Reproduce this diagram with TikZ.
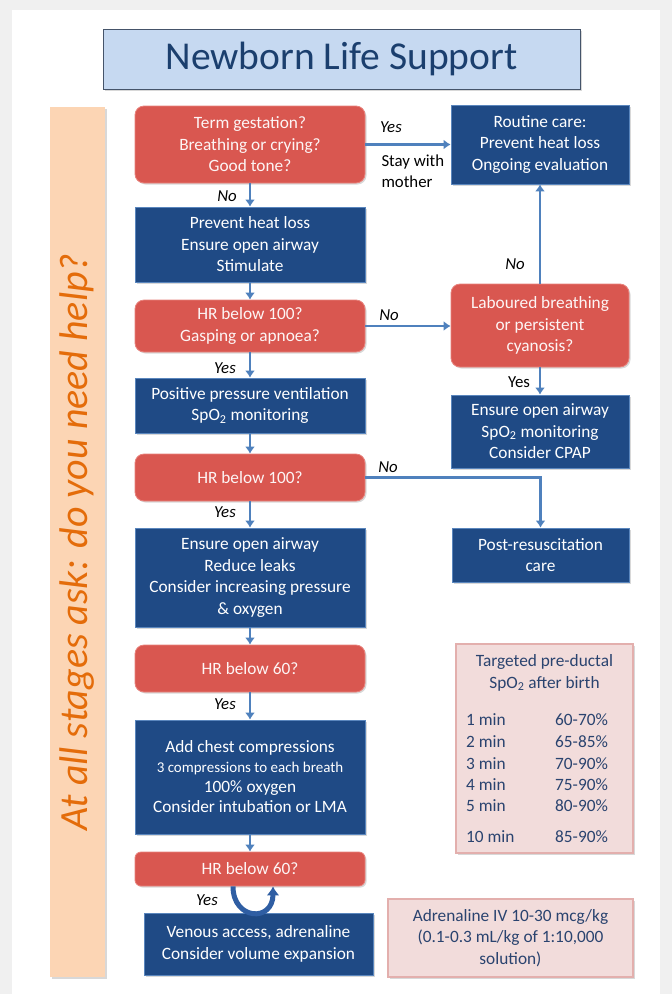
\documentclass[tikz,border=0pt]{standalone}
\usepackage{fontspec}
\setmainfont{Carlito}
\usetikzlibrary{arrows.meta,shadows}
\definecolor{NavyBox}{HTML}{1F4A85}
\definecolor{NavyEdge}{HTML}{5A86BD}
\definecolor{RedBox}{HTML}{D95750}
\definecolor{RedEdge}{HTML}{E8827C}
\definecolor{ArrowBlue}{HTML}{4F81BD}
\definecolor{TurnBlue}{HTML}{2F5EA3}
\definecolor{TitleFill}{HTML}{C6D9F1}
\definecolor{TitleInk}{HTML}{1B3F6E}
\definecolor{TitleEdge}{HTML}{45546A}
\definecolor{Peach}{HTML}{FCD5B4}
\definecolor{Orange}{HTML}{E46C0A}
\definecolor{PinkFill}{HTML}{F2DCDB}
\definecolor{PinkEdge}{HTML}{E3AFAD}
\definecolor{Slate}{HTML}{2A436F}
\definecolor{Frame}{HTML}{F0F0F0}

\begin{document}
\begin{tikzpicture}[x=1pt,y=-1pt,
  every node/.style={font=\fontsize{17.3}{21.5}\selectfont},
  shade/.style={drop shadow={shadow xshift=1.5pt,shadow yshift=-1.5pt,opacity=.3}},
  box/.style={shade,align=center,inner sep=0pt,line width=0.8pt,text=white},
  redbox/.style={box,fill=RedBox,draw=RedEdge,rounded corners=9pt,text=white!94!RedBox},
  bluebox/.style={box,fill=NavyBox,draw=NavyEdge},
  pinkbox/.style={shade,fill=PinkFill,draw=PinkEdge,line width=1.5pt,text=Slate,align=center,inner sep=0pt},
  lbl/.style={font=\fontsize{16.8}{20}\selectfont\itshape},
  flow/.style={draw=ArrowBlue,line width=2.2pt,-{Latex[length=7pt,width=10pt]}}]
  \useasboundingbox (0,0) rectangle (672,994);
  \fill[Frame] (0,0) rectangle (672,994);
  \fill[white] (12,10) rectangle (660,994);

  % heading and side banner
  \node[shade,fill=TitleFill,draw=TitleEdge,line width=1pt,minimum width=477pt,minimum height=60pt,
    text=TitleInk,font=\fontsize{39.5}{44}\selectfont] (title) at (341.5,59) {Newborn Life Support};
  \node[shade,fill=Peach,rotate=90,minimum width=870pt,minimum height=55pt,inner sep=0pt,
    text=Orange,font=\fontsize{40}{44}\selectfont\itshape] (banner) at (77.5,542) {At all stages ask: do you need help?};

  % main column
  \node[redbox,minimum width=230pt,minimum height=77pt] (term) at (250,144.5) {Term gestation?\\Breathing or crying?\\Good tone?};
  \node[bluebox,minimum width=230pt,minimum height=75pt] (heat) at (250,244.5) {Prevent heat loss\\Ensure open airway\\Stimulate};
  \node[redbox,minimum width=230pt,minimum height=52pt] (hr100a) at (250,326) {HR below 100?\\Gasping or apnoea?};
  \node[bluebox,minimum width=230pt,minimum height=55pt] (ppv) at (250,405.5) {Positive pressure ventilation\\SpO\textsubscript{2} monitoring};
  \node[redbox,minimum width=230pt,minimum height=47pt] (hr100b) at (250,477.5) {HR below 100?};
  \node[bluebox,minimum width=230pt,minimum height=99pt] (airway) at (250,577.5) {Ensure open airway\\Reduce leaks\\Consider increasing pressure\\\& oxygen};
  \node[redbox,minimum width=230pt,minimum height=47pt] (hr60a) at (250,668.5) {HR below 60?};
  \node[bluebox,minimum width=230pt,minimum height=114pt,font=\fontsize{17.3}{20}\selectfont] (chest) at (250,777)
    {Add chest compressions\\{\fontsize{15}{20}\selectfont 3 compressions to each breath}\\100\% oxygen\\Consider intubation or LMA};
  \node[redbox,minimum width=230pt,minimum height=34pt,rounded corners=6pt] (hr60b) at (250,869) {HR below 60?};
  \node[bluebox,minimum width=229pt,minimum height=62pt] (venous) at (258.5,944) {Venous access, adrenaline\\Consider volume expansion};

  % right column
  \node[bluebox,minimum width=178pt,minimum height=79pt] (routine) at (540,144.5) {Routine care:\\Prevent heat loss\\Ongoing evaluation};
  \node[redbox,minimum width=178pt,minimum height=83pt] (laboured) at (540,325.5) {Laboured breathing\\or persistent\\cyanosis?};
  \node[bluebox,minimum width=178pt,minimum height=73pt] (cpap) at (540,431.5) {Ensure open airway\\SpO\textsubscript{2} monitoring\\Consider CPAP};
  \node[bluebox,minimum width=177pt,minimum height=54pt] (post) at (540.5,555) {Post-resuscitation\\care};

  % saturation table
  \node[pinkbox,minimum width=177pt,minimum height=209pt] (spo2tab) at (544.5,748.5) {};
  \node[text=Slate,align=center] (spo2head) at (544.5,673) {Targeted pre-ductal\\SpO\textsubscript{2} after birth};
  \foreach \ypos/\tm/\pc [count=\i] in {720/1 min/60-70\%,742/2 min/65-85\%,764/3 min/70-90\%,
      785/4 min/75-90\%,806/5 min/80-90\%,837/10 min/85-90\%}{
    \node[text=Slate,anchor=west,inner sep=0pt] (tmin-\i) at (466,\ypos) {\tm};
    \node[text=Slate,anchor=west,inner sep=0pt] (tval-\i) at (555,\ypos) {\pc};
  }
  \node[pinkbox,minimum width=245pt,minimum height=78pt] (adrenaline) at (510.5,938)
    {Adrenaline IV 10-30 mcg/kg\\(0.1-0.3 mL/kg of 1:10,000\\solution)};

  % connectors
  \draw[flow] (term) -- (heat);
  \draw[flow] (heat) -- (hr100a);
  \draw[flow] (hr100a) -- (ppv);
  \draw[flow] (ppv) -- (hr100b);
  \draw[flow] (hr100b) -- (airway);
  \draw[flow] (airway) -- (hr60a);
  \draw[flow] (hr60a) -- (chest);
  \draw[flow] (chest) -- (hr60b);
  \draw[flow] (term.east) -- (routine.west);
  \draw[flow] (hr100a.east) -- (hr100a.east -| laboured.west);
  \draw[flow] (laboured) -- (routine);
  \draw[flow] (laboured) -- (cpap);
  \draw[flow] (hr100b.east) -| (post.north);
  \draw[TurnBlue,line width=5pt,-{Latex[length=9pt,width=13pt]}]
    ([xshift=-17pt]hr60b.south) .. controls +(0,34) and +(0,36) .. ([xshift=23pt]hr60b.south);

  % branch labels
  \node[lbl] (no-1) at (227,196) {No};
  \node[lbl] (yes-1) at (225,368) {Yes};
  \node[lbl] (yes-2) at (225,512) {Yes};
  \node[lbl] (yes-3) at (225,704) {Yes};
  \node[lbl] (yes-4) at (207,900) {Yes};
  \node[lbl] (yes-r) at (391,127) {Yes};
  \node[anchor=west,align=left,font=\fontsize{16.8}{21}\selectfont] (stay) at (378,171) {Stay with\\mother};
  \node[lbl] (no-2) at (389,315) {No};
  \node[lbl] (no-3) at (515,264) {No};
  \node[font=\fontsize{16.8}{20}\selectfont] (yes-5) at (519,382) {Yes};
  \node[lbl] (no-4) at (388,467) {No};
\end{tikzpicture}
\end{document}
